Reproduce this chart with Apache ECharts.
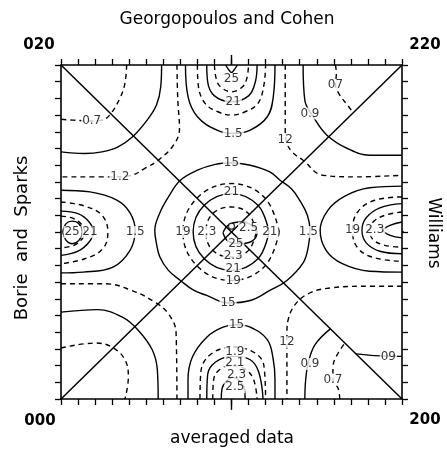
<!DOCTYPE html>
<html>
<head>
<meta charset="utf-8">
<script src="https://cdn.jsdelivr.net/npm/echarts@6/dist/echarts.min.js"></script>
<style>
  html, body { margin: 0; padding: 0; background: #fff; }
  #chart { width: 447px; height: 450px; }
</style>
</head>
<body>
<div id="chart"></div>
<script>
// contour lines, grid units 0..20 (x right, y up)

// top lobe (Georgopoulos and Cohen)
const top25 = [[9.65,20],[9.85,19.7],[10,19.55],[10.15,19.7],[10.35,20]]
const top23 = [[9.0,20],[9.1,19.2],[9.35,18.7],[10,18.4],[10.65,18.7],[10.9,19.2],[11.0,20]]
const top21 = [[8.55,20],[8.6,19],[9.0,18.15],[10,17.8],[11.0,18.15],[11.4,19],[11.5,20]]
const top19 = [[8.0,20],[8.05,18.8],[8.45,17.7],[9.2,17.2],[10,17.0],[10.8,17.2],[11.55,17.7],[11.9,18.8],[12.0,20]]
const top15 = [[7.3,20],[7.45,18.1],[8.0,16.9],[9.15,16.1],[10.1,15.9],[11.1,16.1],[12.1,16.9],[12.45,18.1],[12.55,20]]

// top corners
const tl12 = [[6.8,20],[6.85,17.9],[6.95,16.2],[6.6,15.2],[5.7,14.3],[4.9,13.8],[4.15,13.4],[3.05,13.3],[0,13.3]]
const tl09 = [[5.9,20],[5.85,18.7],[5.6,17.6],[5.05,16.7],[4.2,15.7],[3.35,15.1],[2.4,14.8],[1.4,14.7],[0,14.8]]
const tl07 = [[3.85,20],[3.75,18.9],[3.45,18.0],[2.85,17.0],[2.4,16.7],[1.8,16.65],[0.7,16.7],[0,16.75]]
const tr12 = [[13.15,20],[13.15,17.9],[13.15,16.2],[13.2,15.5],[13.55,14.8],[14.2,14.3],[15.35,13.4],[17.35,13.3],[20,13.4]]
const tr09 = [[14.2,20],[14.3,17.9],[14.8,16.9],[15.6,15.8],[16.8,15.0],[18.1,14.6],[20,14.6]]
const tr07 = [[16.1,20],[16.15,19.5],[16.1,18.8],[16.35,18.2],[16.8,17.6],[17.1,17.2]]

// centre
const mid25 = [[9.5,9.95],[9.8,10.4],[10.5,10.6],[11.2,10.4],[11.5,9.95],[11.2,9.45],[10.5,9.3],[9.8,9.45],[9.5,9.95]]
const mid23 = [[11.45,10],[11.0,11.1],[10,11.5],[8.9,11.1],[8.5,10],[8.9,8.9],[10,8.5],[11.0,8.9],[11.45,10]]
const mid21 = [[12.2,10],[11.55,11.6],[10,12.3],[8.4,11.6],[7.75,10],[8.4,8.4],[10,7.7],[11.55,8.4],[12.2,10]]
const mid19 = [[12.8,10],[11.95,12.05],[10,12.9],[8.0,12.05],[7.15,10],[8.0,7.95],[10,7.1],[11.95,7.95],[12.8,10]]
const mid15 = [[10,14.15],[11.1,14.0],[12.25,13.6],[12.85,13.1],[13.5,12.6],[14.0,11.9],[14.45,11.0],[14.6,10.1],[14.5,9.1],[14.2,8.15],[13.25,7.1],[12.25,6.5],[11.1,5.9],[9.8,5.75],[8.55,6.2],[7.8,6.5],[7.0,7.1],[6.3,7.7],[5.8,8.5],[5.6,9.3],[5.5,10.1],[5.8,11.15],[6.3,12.1],[7.0,13.1],[8.0,13.7],[9.05,14.05],[10,14.15]]
const midDot = [[10,10.35]]

// left lobe (Borie and Sparks)
const left25 = [[0.1,10],[0.3,10.5],[0.65,10.65],[1.05,10.5],[1.25,10],[1.05,9.5],[0.65,9.3],[0.3,9.5],[0.1,10]]
const left23 = [[0,10.95],[0.75,10.8],[1.25,10.4],[1.4,10],[1.25,9.6],[0.75,9.2],[0,9.05]]
const left21 = [[0,11.25],[1.0,11.1],[1.65,10.6],[1.9,10],[1.65,9.4],[1.0,8.85],[0,8.6]]
const left19 = [[0,11.8],[1.4,11.55],[2.4,11.0],[2.75,10],[2.45,9.0],[1.4,8.4],[0,8.1]]
const left15 = [[0,12.5],[1.7,12.4],[3.3,11.9],[4.05,11.15],[4.35,10.1],[4.05,8.9],[3.05,7.9],[1.3,7.6],[0,7.55]]

// right lobe (Williams)
const right25 = [[20,10.6],[19.3,10.4],[18.9,10.1],[19.3,9.8],[20,9.65]]
const right23 = [[20,11.2],[19.0,11.0],[18.3,10.6],[18.1,10.1],[18.3,9.55],[19.0,9.2],[20,9.1]]
const right21 = [[20,11.7],[18.7,11.45],[17.9,10.85],[17.65,10.1],[17.9,9.35],[18.7,8.85],[20,8.7]]
const right19 = [[20,12.1],[18.4,11.9],[17.4,11.2],[17.1,10.1],[17.4,9.05],[18.4,8.45],[20,8.25]]
const right15 = [[20,12.75],[18.1,12.65],[16.65,12.15],[15.65,11.3],[15.2,10.1],[15.55,8.9],[16.5,8.1],[18.1,7.65],[20,7.6]]

// bottom lobe (averaged data)
const bot25 = [[9.4,0],[9.45,0.65],[9.7,1.05],[10.1,1.3],[10.5,1.05],[10.75,0.65],[10.8,0]]
const bot23 = [[8.9,0],[8.95,1.15],[9.3,1.75],[10.05,2.0],[10.85,1.75],[11.3,1.15],[11.5,0]]
const bot21 = [[8.55,0],[8.6,1.45],[9.05,2.2],[10.05,2.55],[11.1,2.35],[11.6,1.6],[11.85,0]]
const bot19 = [[8.15,0],[8.2,1.6],[8.75,2.65],[10.05,3.1],[11.3,2.8],[11.9,2.0],[12.0,0]]
const bot15 = [[7.45,0],[7.45,1.15],[7.7,2.5],[8.55,3.7],[9.5,4.3],[10.3,4.45],[11.1,4.3],[12.1,3.55],[12.45,2.35],[12.55,1.15],[12.55,0]]

// bottom corners
const bl12 = [[0,6.9],[2.6,6.9],[4.15,6.5],[5.5,5.8],[6.3,5.1],[6.75,3.95],[6.8,0]]
const bl09 = [[0,5.2],[2.15,5.35],[3.6,4.9],[4.5,4.15],[5.35,2.95],[5.65,1.75],[5.7,0]]
const bl07 = [[0,3.05],[2.0,3.35],[3.0,3.1],[3.75,2.35],[3.95,1.3],[3.75,0]]
const br12 = [[20,6.75],[17.55,6.75],[15.8,6.65],[14.7,6.4],[13.85,5.8],[13.35,4.85],[13.25,3.85],[13.25,2.35],[13.25,0]]
const br09 = [[14.3,0],[14.35,1.15],[14.5,2.15],[14.9,3.25],[15.8,4.2]]
const br09r = [[17.3,2.7],[18.4,2.6],[20,2.55]]
const br07 = [[16.35,0],[16.25,0.65],[15.95,1.15],[15.95,1.9],[16.2,2.65],[16.65,3.35]]

const diag1 = [[0,0],[20,20]]
const diag2 = [[0,20],[20,0]]

const solid = [top25, top21, top15, tl09, tr09, mid25, mid21, mid15, left25, left21, left15,
  right25, right21, right15, bot25, bot21, bot15, bl09, br09, br09r]
const dashed = [top23, top19, tl12, tl07, tr12, tr07, mid23, mid19, left23, left19,
  right23, right19, bot23, bot19, bl12, bl07, br12, br07]

// contour labels [x, y, text]
const labels = [
  [10,19.15,'25'],[10.1,17.8,'21'],[10.1,15.9,'1.5'],[13.15,15.5,'12'],[14.6,17.1,'0.9'],[16.1,18.8,'07'],
  [1.8,16.65,'0.7'],[3.45,13.3,'1.2'],
  [0.65,10,'25'],[1.7,10,'21'],[4.35,10,'1.5'],
  [7.15,10,'19'],[8.55,10,'2.3'],[11.0,10.25,'2.5'],[12.25,10,'21'],[14.5,10,'1.5'],
  [10,12.4,'21'],[10,14.15,'15'],
  [10.25,9.3,'25'],[10.1,8.55,'2.3'],[10.1,7.8,'21'],[10.1,7.1,'19'],[9.8,5.75,'15'],
  [17.1,10.1,'19'],[18.4,10.1,'2.3'],
  [10.3,4.45,'15'],[10.2,2.8,'1.9'],[10.2,2.15,'2.1'],[10.3,1.45,'2.3'],[10.2,0.7,'2.5'],
  [13.25,3.4,'12'],[14.6,2.1,'0.9'],[15.95,1.15,'0.7'],[19.2,2.55,'09']
]

// long centre ticks on each side
const longTicks = [
  [[10,0],[10,-0.65]],
  [[10,20],[10,20.6]],
  [[0,10],[-0.5,10]],
  [[20,10],[20.45,10]]
]

let ink = '#000'

let line = (data, dash) => ({
  type: 'line',
  data: data,
  smooth: 0.4,
  symbol: 'none',
  silent: true,
  z: 3,
  lineStyle: { color: ink, width: 1.4, type: dash ? [5, 4] : 'solid' }
})

let axisBase = pos => ({
  type: 'value',
  position: pos,
  min: 0,
  max: 20,
  interval: 1,
  axisLine: { show: true, onZero: false, lineStyle: { color: ink, width: 1.6 } },
  axisTick: { show: true, inside: false, length: 6, lineStyle: { color: ink, width: 1.3 } },
  axisLabel: { show: false },
  splitLine: { show: false }
})

let series = []
solid.forEach(d => series.push(line(d, false)))
dashed.forEach(d => series.push(line(d, true)))
series.push({ type: 'line', data: diag1, symbol: 'none', silent: true, z: 4,
  lineStyle: { color: ink, width: 1.5 } })
series.push({ type: 'line', data: diag2, symbol: 'none', silent: true, z: 4,
  lineStyle: { color: ink, width: 1.5 } })
longTicks.forEach(d => series.push({ type: 'line', data: d, symbol: 'none', silent: true,
  clip: false, lineStyle: { color: ink, width: 1.4 } }))
series.push({
  type: 'scatter',
  data: midDot,
  symbol: 'circle',
  symbolSize: 6,
  silent: true,
  z: 5,
  itemStyle: { color: '#fff', borderColor: ink, borderWidth: 1.2 }
})
series.push({
  type: 'scatter',
  data: labels.map(d => ({ value: [d[0], d[1]], name: d[2] })),
  symbolSize: 0,
  silent: true,
  z: 10,
  label: {
    show: true,
    position: 'inside',
    formatter: '{b}',
    color: ink,
    fontSize: 12,
    fontFamily: 'DejaVu Sans',
    backgroundColor: '#fff',
    padding: [0, 1]
  }
})

let textStyle = (txt, x, y, size, rot, weight) => ({
  type: 'text',
  x: x,
  y: y,
  rotation: rot || 0,
  style: {
    text: txt,
    fill: ink,
    font: (weight || 'normal') + ' ' + size + 'px "DejaVu Sans"',
    align: 'center',
    verticalAlign: 'middle'
  }
})

let option = {
  animation: false,
  backgroundColor: '#fff',
  grid: { left: 61, right: 45, top: 65, bottom: 51, containLabel: false },
  xAxis: [axisBase('bottom'), axisBase('top')],
  yAxis: [axisBase('left'), axisBase('right')],
  graphic: [
    textStyle('Georgopoulos and Cohen', 227, 20, 17),
    textStyle('averaged data', 232, 439, 17),
    textStyle('Borie  and  Sparks', 22, 238, 18, Math.PI / 2),
    textStyle('Williams', 433, 233, 17, -Math.PI / 2),
    textStyle('020', 39, 45, 15, 0, 'bold'),
    textStyle('220', 425, 45, 15, 0, 'bold'),
    textStyle('000', 40, 421, 15, 0, 'bold'),
    textStyle('200', 425, 420, 15, 0, 'bold')
  ],
  series: series
}

let chart = echarts.init(document.getElementById('chart'))
chart.setOption(option)
</script>
</body>
</html>
